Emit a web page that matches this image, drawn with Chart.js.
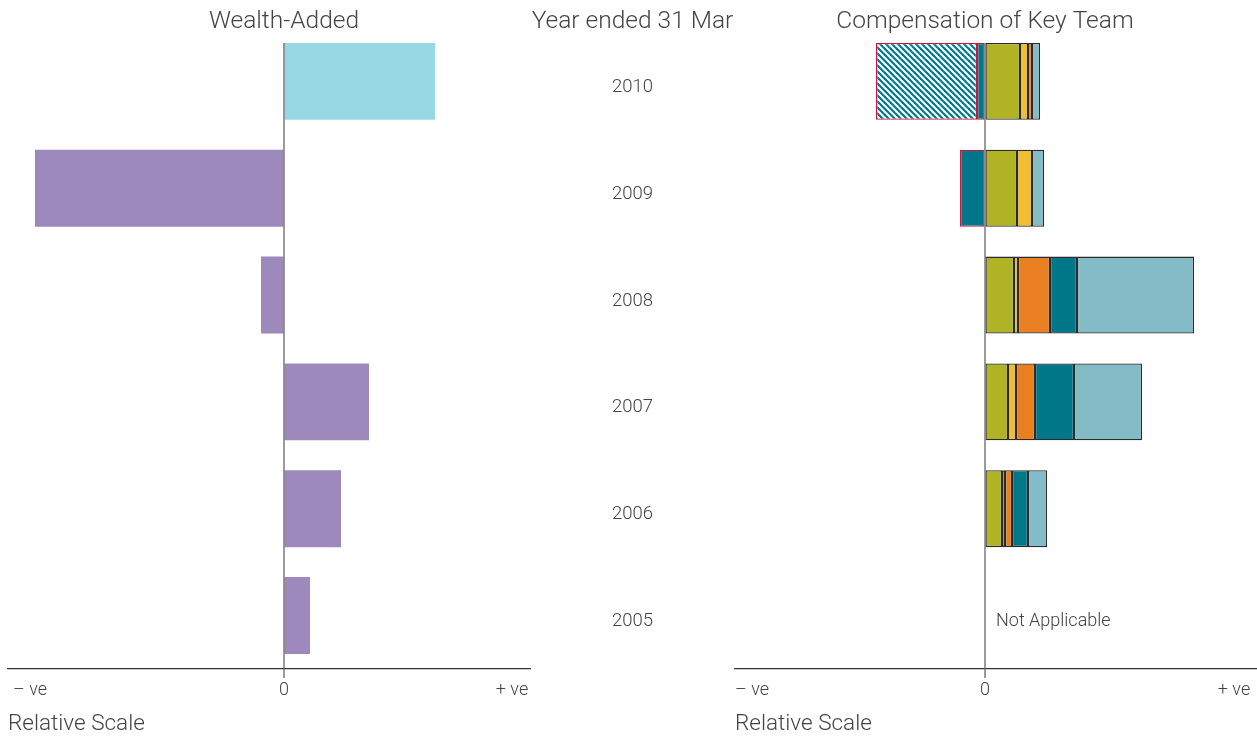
<!DOCTYPE html>
<html>
<head>
<meta charset="utf-8">
<script src="https://cdn.jsdelivr.net/npm/chart.js@4"></script>
<style>
    body { margin: 0; background: #fff; }
    #wrap { position: relative; width: 1257px; height: 738px; }
    .panel { position: absolute; top: 0; height: 738px; }
    #leftPanel { left: 0; width: 540px; }
    #rightPanel { left: 530px; width: 727px; }
</style>
</head>
<body>
<div id="wrap">
    <div class="panel" id="leftPanel"><canvas id="wealthChart"></canvas></div>
    <div class="panel" id="rightPanel"><canvas id="compChart"></canvas></div>
</div>
<script>
// data (relative scale)
const years = ['2010', '2009', '2008', '2007', '2006', '2005'];
const wealthAdded = [151, -249, -23, 85, 57, 26];

const compOlive = [35, 32, 29, 23, 17, null];
const compYellow = [8, 15, 4, 8, 3, null];
const compOrange = [4, 0, 32, 19, 7, null];
const compTeal = [-8, -25, 27, 39, 16, null];
const compLightBlue = [8, 12, 117, 68, 19, null];
const compHatched = [-101, 0, 0, 0, 0, null];

const tickLabels = ['\u2013 ve', '0', '+ ve'];
const wealthTicks = [-254, 0, 228];
const compTicks = [-233, 0, 249];
const notApplicableYear = '2005';

// chart logic

const FONT = "Roboto, 'Helvetica Neue', Arial, sans-serif";
const TEXT = '#444';
const EDGE = '#2b2b2b';
const NEG_EDGE = '#c8163f';

function hatchPattern() {
    const c = document.createElement('canvas');
    c.width = 6; c.height = 6;
    const g = c.getContext('2d');
    g.fillStyle = '#fff';
    g.fillRect(0, 0, 6, 6);
    g.strokeStyle = '#00788a';
    g.lineWidth = 2.2;
    for (let k = -1; k <= 1; k++) {
        g.beginPath();
        g.moveTo(k * 6 - 1, -1);
        g.lineTo(k * 6 + 7, 7);
        g.stroke();
    }
    return g.createPattern(c, 'repeat');
}

// zero line from top of first bar down through the axis + titles over the zero point
function panelPlugin(title, extra) {
    return {
        id: 'panel',
        afterDatasetsDraw(chart) {
            const ctx = chart.ctx;
            const x0 = chart.scales.x.getPixelForValue(0);
            const first = chart.getDatasetMeta(0).data[0];
            const top = first.y - first.height / 2;
            ctx.save();
            ctx.strokeStyle = '#666';
            ctx.lineWidth = 1.3;
            ctx.beginPath();
            ctx.moveTo(x0, top);
            ctx.lineTo(x0, chart.chartArea.bottom + 9);
            ctx.stroke();

            ctx.fillStyle = TEXT;
            ctx.font = '300 24.5px ' + FONT;
            ctx.textAlign = 'center';
            ctx.textBaseline = 'middle';
            ctx.fillText(title, x0, 22);
            if (extra) extra(chart, ctx);
            ctx.restore();
        }
    };
}

function xAxis(min, max, ticks) {
    return {
        type: 'linear',
        min: min,
        max: max,
        afterBuildTicks: scale => { scale.ticks = ticks.map(v => ({ value: v })); },
        ticks: {
            autoSkip: false,
            maxRotation: 0,
            padding: 3,
            color: TEXT,
            font: { family: FONT, size: 18, weight: '300' },
            callback: (v) => tickLabels[ticks.indexOf(v)]
        },
        grid: {
            drawOnChartArea: false,
            drawTicks: true,
            tickLength: 8,
            color: 'transparent'
        },
        border: { display: true, color: '#333', width: 1.3 },
        title: {
            display: true,
            text: 'Relative Scale',
            align: 'start',
            color: TEXT,
            font: { family: FONT, size: 22.5, weight: '300', lineHeight: 1 },
            padding: { top: 9, bottom: 2 }
        }
    };
}

const wealthConfig = {
    type: 'bar',
    data: {
        labels: years,
        datasets: [{
            label: 'Wealth-Added',
            data: wealthAdded,
            backgroundColor: ctx => ctx.dataIndex === 0 ? '#98d8e2' : '#9d89bc',
            borderWidth: 0,
            barPercentage: 0.72,
            categoryPercentage: 1
        }]
    },
    options: {
        indexAxis: 'y',
        responsive: true,
        maintainAspectRatio: false,
        animation: false,
        layout: { padding: { left: 8, right: 10, top: 28, bottom: 0 } },
        plugins: { legend: { display: false }, tooltip: { enabled: false } },
        scales: {
            x: xAxis(-276, 246, wealthTicks),
            y: { display: false }
        }
    },
    plugins: [panelPlugin('Wealth-Added')]
};

const hatch = hatchPattern();

function seg(label, data, color) {
    return {
        label: label,
        data: data,
        backgroundColor: color,
        borderColor: ctx => ctx.raw < 0 ? NEG_EDGE : EDGE,
        borderWidth: 1.3,
        borderSkipped: false,
        barPercentage: 0.72,
        categoryPercentage: 1
    };
}

const compConfig = {
    type: 'bar',
    data: {
        labels: years,
        datasets: [
            seg('Olive', compOlive, '#afb324'),
            seg('Yellow', compYellow, '#f0be2e'),
            seg('Orange', compOrange, '#ea7f22'),
            seg('Teal', compTeal, '#00788a'),
            seg('Light blue', compLightBlue, '#83bbc7'),
            seg('Hatched', compHatched, hatch)
        ]
    },
    options: {
        indexAxis: 'y',
        responsive: true,
        maintainAspectRatio: false,
        animation: false,
        layout: { padding: { left: 0, right: 0, top: 28, bottom: 0 } },
        plugins: { legend: { display: false }, tooltip: { enabled: false } },
        scales: {
            x: Object.assign(xAxis(-250, 272, compTicks), { stacked: true }),
            y: {
                stacked: true,
                afterFit: scale => { scale.width = 205; },
                grid: {
                    display: true,
                    drawOnChartArea: false,
                    drawTicks: true,
                    tickLength: 82,
                    color: 'transparent'
                },
                border: { display: false },
                ticks: {
                    crossAlign: 'center',
                    padding: 0,
                    labelOffset: 6,
                    color: TEXT,
                    font: { family: FONT, size: 18.5, weight: '300' }
                }
            }
        }
    },
    plugins: [panelPlugin('Compensation of Key Team', (chart, ctx) => {
        const y = chart.scales.y;
        ctx.fillText('Year ended 31 Mar', (y.left + y.right) / 2, 22);
        ctx.font = '300 18px ' + FONT;
        ctx.textAlign = 'left';
        ctx.fillText('Not Applicable', chart.scales.x.getPixelForValue(0) + 11,
            y.getPixelForValue(years.indexOf(notApplicableYear)) + 6);
    })]
};

new Chart(document.getElementById('wealthChart'), wealthConfig);
new Chart(document.getElementById('compChart'), compConfig);

// chart logic end
</script>
</body>
</html>
